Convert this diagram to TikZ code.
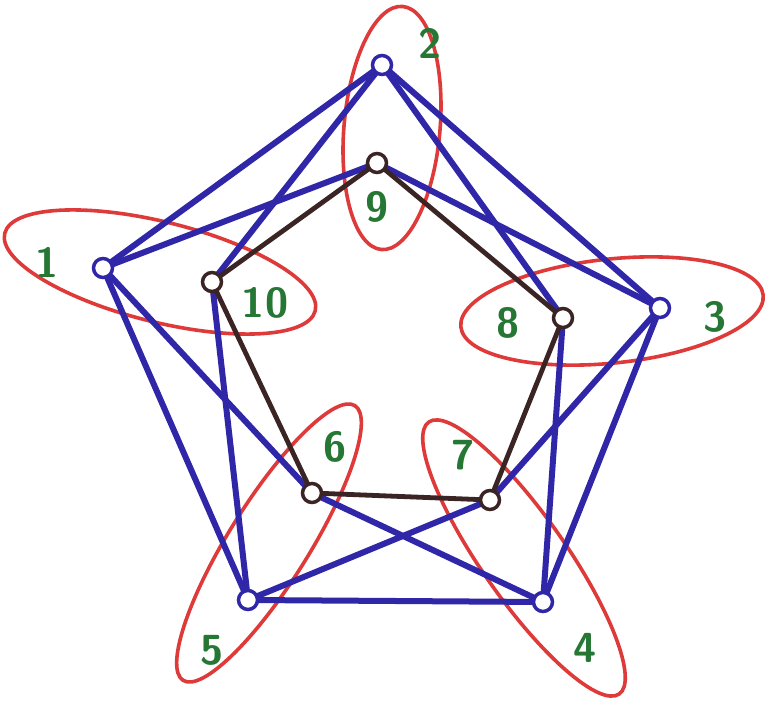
\documentclass[tikz,border=0pt]{standalone}
\usetikzlibrary{calc}
\definecolor{penblue}{RGB}{48,38,168}
\definecolor{penbrown}{RGB}{58,36,36}
\definecolor{penred}{RGB}{222,58,58}
\definecolor{pengreen}{RGB}{38,118,52}
\tikzset{
  outer/.style={circle,draw=penblue,line width=3.5pt,fill=white,minimum size=19pt,inner sep=0pt},
  inner/.style={circle,draw=penbrown,line width=3.5pt,fill=white,minimum size=19pt,inner sep=0pt},
  bedge/.style={draw=penblue,line width=6pt,line cap=round},
  kedge/.style={draw=penbrown,line width=4.8pt,line cap=round},
  pair/.style={draw=penred,line width=3.6pt},
  lab/.style={text=pengreen,font=\sffamily\bfseries\fontsize{42}{42}\selectfont,inner sep=0pt},
}
\begin{document}
\begin{tikzpicture}[x=1pt,y=1pt]
\useasboundingbox (0,0) rectangle (765,712);
\fill[white] (0,0) rectangle (765,712);
% red pair ellipses
\draw[pair] (160,440) ellipse[x radius=160,y radius=50,rotate=-14];
\draw[pair] (392,584) ellipse[x radius=122,y radius=48,rotate=85];
\draw[pair] (612,401) ellipse[x radius=152,y radius=52,rotate=6];
\draw[pair] (269,169) ellipse[x radius=162,y radius=40,rotate=58];
\draw[pair] (524,154) ellipse[x radius=166,y radius=42,rotate=-55];
% vertex coordinates
\coordinate (p1) at (103,444);
\coordinate (p2) at (382,647);
\coordinate (p3) at (660,404);
\coordinate (p4) at (543,110);
\coordinate (p5) at (248,112);
\coordinate (p6) at (312,219);
\coordinate (p7) at (490,212);
\coordinate (p8) at (563,394);
\coordinate (p9) at (377,549);
\coordinate (p10) at (212,430);
% blue edges
\draw[bedge] (p1) -- (p2);
\draw[bedge] (p2) -- (p3);
\draw[bedge] (p3) -- (p4);
\draw[bedge] (p4) -- (p5);
\draw[bedge] (p5) -- (p1);
\draw[bedge] (p1) -- (p9);
\draw[bedge] (p1) -- (p6);
\draw[bedge] (p2) -- (p10);
\draw[bedge] (p2) -- (p8);
\draw[bedge] (p3) -- (p9);
\draw[bedge] (p3) -- (p7);
\draw[bedge] (p4) -- (p8);
\draw[bedge] (p4) -- (p6);
\draw[bedge] (p5) -- (p10);
\draw[bedge] (p5) -- (p7);
% inner pentagon
\draw[kedge] (p9) -- (p8);
\draw[kedge] (p8) -- (p7);
\draw[kedge] (p7) -- (p6);
\draw[kedge] (p6) -- (p10);
\draw[kedge] (p10) -- (p9);
% vertices
\node[outer] (v1) at (p1) {};
\node[outer] (v2) at (p2) {};
\node[outer] (v3) at (p3) {};
\node[outer] (v4) at (p4) {};
\node[outer] (v5) at (p5) {};
\node[inner] (v6) at (p6) {};
\node[inner] (v7) at (p7) {};
\node[inner] (v8) at (p8) {};
\node[inner] (v9) at (p9) {};
\node[inner] (v10) at (p10) {};
% labels
\node[lab] (l1) at (47,450) {1};
\node[lab] (l2) at (430,669) {2};
\node[lab] (l3) at (715,395) {3};
\node[lab] (l4) at (585,64) {4};
\node[lab] (l5) at (212,62) {5};
\node[lab] (l6) at (335,265) {6};
\node[lab] (l7) at (463,257) {7};
\node[lab] (l8) at (508,389) {8};
\node[lab] (l9) at (377,505) {9};
\node[lab] (l10) at (265,409) {10};
\end{tikzpicture}
\end{document}
